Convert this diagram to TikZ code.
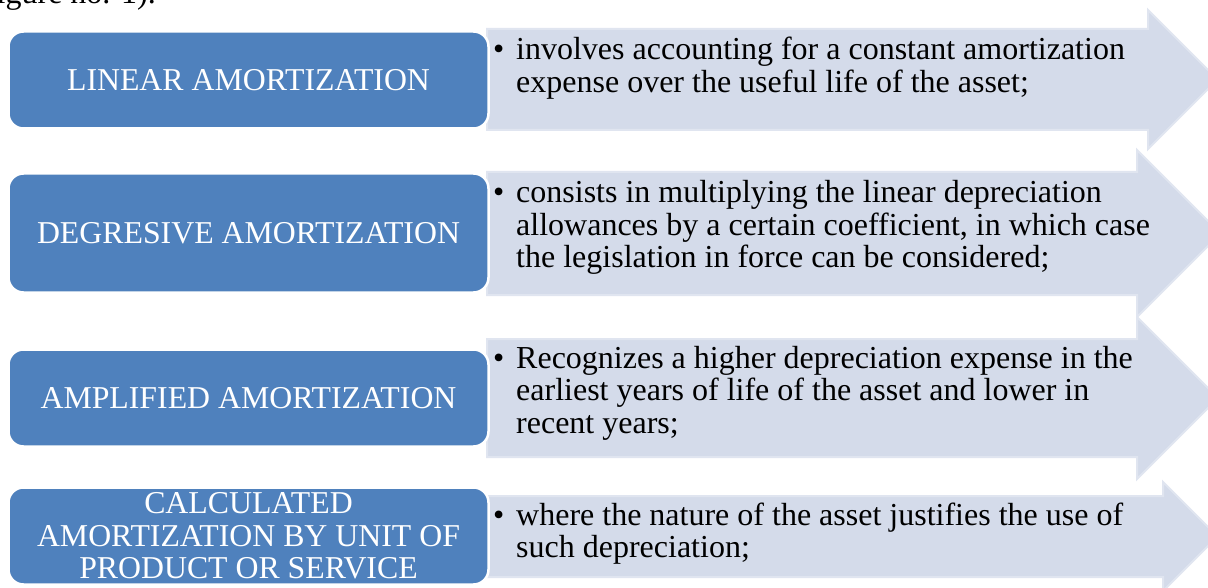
\documentclass[tikz,border=0pt]{standalone}
\usepackage{fontspec}
\setmainfont{Liberation Serif}
\definecolor{boxblue}{RGB}{79,129,189}
\definecolor{arrfill}{RGB}{212,219,234}
\definecolor{arredge}{RGB}{224,229,240}
\tikzset{
  catbox/.style={draw=white, line width=2.5pt, fill=boxblue, rounded corners=15pt,
    text=white, align=center, inner sep=0pt,
    font=\fontsize{31.8}{32.5}\selectfont},
  arrshape/.style={fill=arrfill, draw=arredge, line width=2pt, line join=miter},
  desc/.style={anchor=base west, inner sep=0pt, font=\fontsize{32}{32.5}\selectfont},
  bul/.style={anchor=base west, inner sep=0pt, font=\fontsize{32}{32.5}\selectfont},
}
\newcommand{\lines}[1]{\begin{tabular}[t]{@{}l@{}}#1\end{tabular}}
\begin{document}
\begin{tikzpicture}[x=1pt,y=-1pt]
\useasboundingbox (0,0) rectangle (1208,588);
\fill[white] (0,0) rectangle (1208,588);
\begin{scope}
\clip (0,0) rectangle (1208,588);
% top partial caption
\node[anchor=base east, inner sep=0pt, font=\fontsize{32}{32}\selectfont] (cap) at (156,4) {igure no. 1).};
% arrows
\draw[arrshape] (487,29) -- (1148,29) -- (1148,10) -- (1217.5,79.5) -- (1148,149) -- (1148,130) -- (487,130) -- cycle;
\draw[arrshape] (487,172) -- (1137,172) -- (1137,150) -- (1220.5,233.5) -- (1137,317) -- (1137,295) -- (487,295) -- cycle;
\draw[arrshape] (487,339) -- (1137,339) -- (1137,317) -- (1218,398) -- (1137,479) -- (1137,457) -- (487,457) -- cycle;
\draw[arrshape] (487,496) -- (1163,496) -- (1163,482) -- (1217.5,536.5) -- (1163,591) -- (1163,577) -- (487,577) -- cycle;
\end{scope}
% category boxes
\node[catbox, minimum width=480pt, minimum height=97pt] (b1) at (248.5,80) {LINEAR AMORTIZATION};
\node[catbox, minimum width=480pt, minimum height=119pt] (b2) at (248.5,233) {DEGRESIVE AMORTIZATION};
\node[catbox, minimum width=480pt, minimum height=97pt] (b3) at (248.5,398) {AMPLIFIED AMORTIZATION};
\node[catbox, minimum width=480pt, minimum height=97pt] (b4) at (248.5,536) {CALCULATED\\AMORTIZATION BY UNIT OF\\PRODUCT OR SERVICE};
% bullets and descriptions
\node[bul] (u1) at (493,60) {•};
\node[desc] (d1) at (516,60) {\lines{involves accounting for a constant amortization\\expense over the useful life of the asset;}};
\node[bul] (u2) at (493,203) {•};
\node[desc] (d2) at (516,203) {\lines{consists in multiplying the linear depreciation\\allowances by a certain coefficient, in which case\\the legislation in force can be considered;}};
\node[bul] (u3) at (493,368) {•};
\node[desc] (d3) at (516,368) {\lines{Recognizes a higher depreciation expense in the\\earliest years of life of the asset and lower in\\recent years;}};
\node[bul] (u4) at (493,525) {•};
\node[desc] (d4) at (516,525) {\lines{where the nature of the asset justifies the use of\\such depreciation;}};
\end{tikzpicture}
\end{document}
